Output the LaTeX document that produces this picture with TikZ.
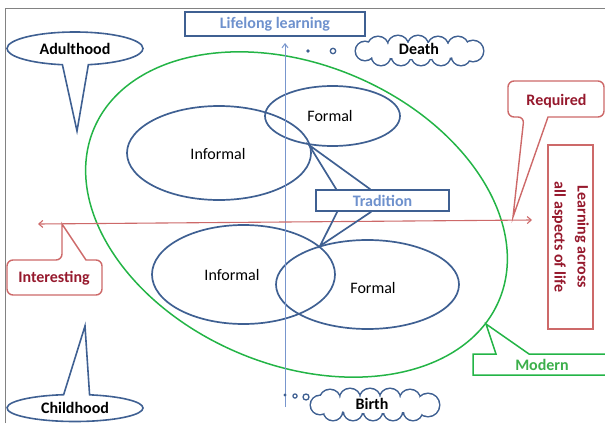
\documentclass[tikz,border=0pt]{standalone}
\usepackage{fontspec}
\setmainfont{Carlito}
\usetikzlibrary{shapes.geometric,shapes.callouts,arrows.meta,calc}
\definecolor{dblue}{RGB}{63,96,146}
\definecolor{lblue}{RGB}{110,145,205}
\definecolor{vblue}{RGB}{120,150,205}
\definecolor{dred}{RGB}{150,25,45}
\definecolor{lred}{RGB}{205,105,105}
\definecolor{mgreen}{RGB}{35,180,70}
\definecolor{tgreen}{RGB}{60,175,75}
\definecolor{framec}{RGB}{130,130,130}
\newcommand{\myblob}[1]{%
  \foreach \cx/\cy/\rr in {#1} {\draw[dblue, line width=3] (\cx,\cy) circle[radius=\rr];}
  \foreach \cx/\cy/\rr in {#1} {\fill[white] (\cx,\cy) circle[radius=\rr];}}
\begin{document}
\begin{tikzpicture}[x=1pt,y=-1pt,
  lbl/.style={font=\fontsize{16}{19}\selectfont, inner sep=0},
  blbl/.style={font=\fontsize{16}{19}\selectfont\bfseries, inner sep=0},
  ell/.style={draw=dblue, line width=1.7, ellipse, inner sep=0},
  bluebox/.style={draw=dblue, line width=1.5, rectangle, inner sep=0, text=lblue, font=\fontsize{16}{19}\selectfont\bfseries},
  redline/.style={draw=lred, line width=1.4},
  greenline/.style={draw=mgreen, line width=1.5},
  ecallout/.style={ellipse callout, draw=dblue, line width=1.6, inner sep=0, callout pointer arc=22, font=\fontsize{16}{19}\selectfont\bfseries},
]
\useasboundingbox (0,0) rectangle (605,423);
\clip (0,0) rectangle (605,423);

% frame
\draw[framec, line width=0.8] (5,423) -- (5,8) -- (605,8);

% green ellipse
\draw[mgreen, line width=1.5] (296.5,214.5) ellipse [x radius=220, y radius=150, rotate=-23];

% blue ellipses
\node[ell, minimum width=184, minimum height=94] (inf1) at (219,153) {};
\node[ell, minimum width=135, minimum height=60] (for1) at (332.5,116) {};
\node[ell, minimum width=183, minimum height=99] (inf2) at (243.5,274.5) {};
\node[ell, minimum width=183, minimum height=89] (for2) at (367.5,284.5) {};
\node[lbl] (tinf1) at (218,154) {Informal};
\node[lbl] (tfor1) at (330,116) {Formal};
\node[lbl] (tinf2) at (232,275) {Informal};
\node[lbl] (tfor2) at (373,288) {Formal};

% vertical arrow
\coordinate (vbot) at (285,407);
\coordinate (vtop) at (285,43);
\draw[vblue, line width=1, -{Straight Barb[length=4,width=6]}] (vbot) -- (vtop);

% horizontal red arrow
\coordinate (hright) at (532,220);
\coordinate (hleft) at (38,224);
\draw[lred, line width=1.1, {Straight Barb[length=4,width=7]}-{Straight Barb[length=4,width=7]}] (hleft) -- (hright);

% Lifelong learning box
\node[bluebox, minimum width=180, minimum height=24] (life) at (275,24) {Lifelong learning};

% Tradition box and connectors
\node[bluebox, minimum width=133, minimum height=21, fill=white] (trad) at (382.5,200.5) {Tradition};
\coordinate (apexT) at (309,145);
\coordinate (apexB) at (320,246);
\draw[dblue, line width=1.7] ($(trad.north west)+(21,0)$) -- (apexT) -- ($(trad.north west)+(55,0)$);
\draw[dblue, line width=1.7] ($(trad.south west)+(22,0)$) -- (apexB) -- ($(trad.south west)+(56,0)$);

% clouds (union of puffs)
\myblob{378/47/10, 398/46/10, 418/46/10, 438/47/10, 458/47/10, 381/56/9, 401/56/9, 421/56/9, 441/56/9, 461/56/9, 365/51/9, 473/51/10}
\fill[white] (419,51) ellipse [x radius=55, y radius=8];
\node[blbl] (tdeath) at (419,49) {Death};
\myblob{330/400/10, 350/399/10, 370/399/10, 390/399/10, 410/400/10, 333/411/9, 353/411/9, 373/411/9, 393/411/9, 413/411/9, 320/405/9, 428/405/11}
\fill[white] (375,405) ellipse [x radius=55, y radius=8];
\node[blbl] (tbirth) at (372,404) {Birth};
\fill[dblue] (308,51) circle [radius=1.9];
\draw[dblue, line width=1.3] (333,51) circle [radius=2.7];
\fill[dblue] (285,395) circle [radius=1.6];
\draw[dblue, line width=1.2] (295,396) circle [radius=2.1];
\draw[dblue, line width=1.3] (306,397) circle [radius=3];

% ellipse callouts
\node[ecallout, minimum width=136, minimum height=33, callout absolute pointer={(77,131)}] (adult) at (75,48.5) {Adulthood};
\node[ecallout, minimum width=136, minimum height=27, callout absolute pointer={(85,326)}] (child) at (75,408) {\raisebox{1pt}{Childhood}};

% Required callout
\node[blbl, text=dred] (req) at (556.5,101) {Required};
\coordinate (reqtip) at (513,217);
\draw[redline] (524,117) -- (reqtip) -- (548,117) [rounded corners=6] -- (604,117) -- (604,81) -- (508,81) -- (508,117) -- cycle;

% Interesting callout
\node[blbl, text=dred] (intr) at (54,278) {Interesting};
\coordinate (inttip) at (62,224);
\draw[redline] (62,260) -- (inttip) -- (86,260) [rounded corners=6] -- (102,260) -- (102,295) -- (7,295) -- (7,260) -- cycle;

% Learning across box
\node[draw=lred, line width=1.4, rotate=-90, minimum width=184, minimum height=45, inner sep=0, text=dred, align=center, font=\fontsize{16}{23}\selectfont\bfseries] (learn) at (570.5,237) {Learning across\\all aspects of life};

% Modern callout
\node[blbl, text=tgreen] (modern) at (542,365) {Modern};
\coordinate (modtip) at (486,324);
\draw[greenline] (496,354) -- (modtip) -- (529,354) -- (612,354) -- (612,375) -- (473,375) -- (473,354) -- cycle;

\end{tikzpicture}
\end{document}
